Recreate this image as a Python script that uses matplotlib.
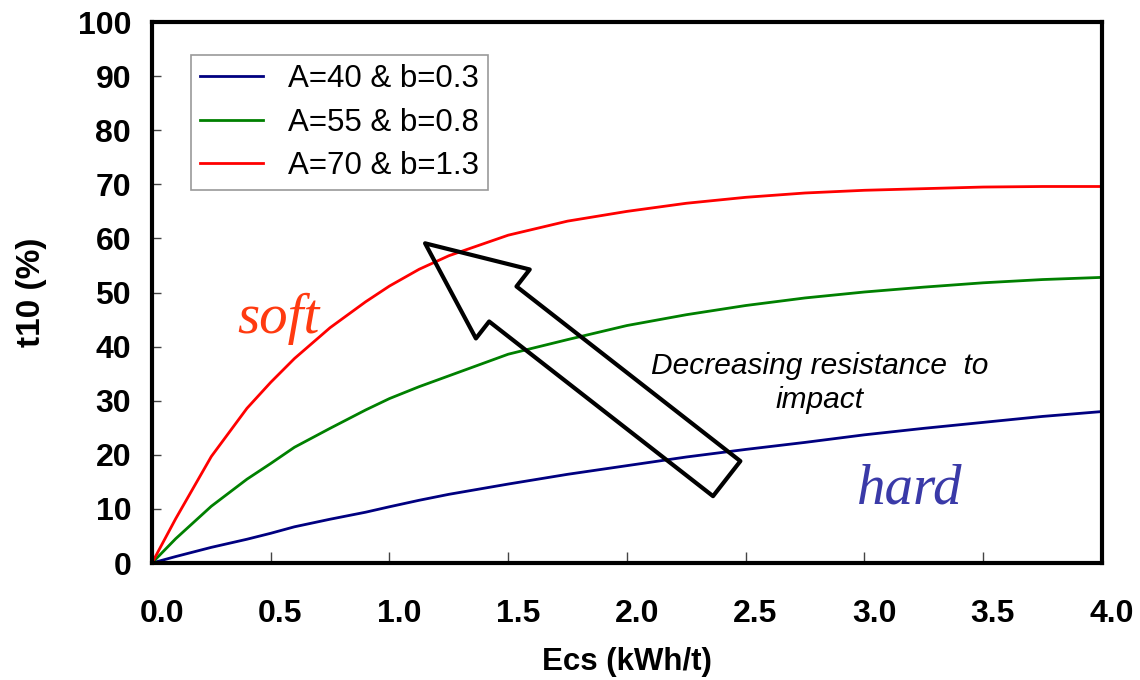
import matplotlib
matplotlib.use("Agg")
import matplotlib.pyplot as plt
from matplotlib.transforms import ScaledTranslation

plt.rcParams["font.family"] = ["Liberation Sans", "DejaVu Sans"]

# values
ecs = [0.0, 0.1, 0.25, 0.4, 0.5, 0.6, 0.75, 0.9, 1.0, 1.125, 1.25, 1.5, 1.75, 2.0,
       2.25, 2.5, 2.75, 3.0, 3.25, 3.5, 3.75, 4.0]
t10_hard = [0.0, 1.2, 2.9, 4.4, 5.5, 6.7, 8.1, 9.4, 10.4, 11.6, 12.7, 14.6, 16.4, 18.0,
            19.6, 21.0, 22.3, 23.7, 24.9, 26.0, 27.1, 28.0]
t10_mid = [0.0, 4.5, 10.5, 15.5, 18.4, 21.4, 24.9, 28.3, 30.4, 32.6, 34.6, 38.6, 41.3, 43.9,
           45.9, 47.6, 49.0, 50.1, 51.0, 51.8, 52.4, 52.8]
t10_soft = [0.0, 8.2, 19.7, 28.6, 33.4, 37.8, 43.5, 48.3, 51.2, 54.3, 56.8, 60.6, 63.2, 65.0,
            66.5, 67.6, 68.4, 68.9, 69.2, 69.5, 69.6, 69.6]
labels = ["A=40 & b=0.3", "A=55 & b=0.8", "A=70 & b=1.3"]
colors = ["#000080", "#008000", "#ff0000"]

fig = plt.figure(figsize=(11.4, 6.8), dpi=100)
ax = fig.add_axes([0.1333, 0.172, 0.8333, 0.7956])

for y, lab, c in zip([t10_hard, t10_mid, t10_soft], labels, colors):
    ax.plot(ecs, y, color=c, lw=2.0, label=lab)

ax.set_xlim(0, 4)
ax.set_ylim(0, 100)
ax.set_xticks([0, 0.5, 1, 1.5, 2, 2.5, 3, 3.5, 4])
ax.set_xticklabels(["0.0", "0.5", "1.0", "1.5", "2.0", "2.5", "3.0", "3.5", "4.0"])
ax.set_yticks(range(0, 101, 10))

for s in ax.spines.values():
    s.set_linewidth(3)
    s.set_color("black")

ax.tick_params(axis="both", direction="in", width=1, color="#444444",
               labelsize=23)
ax.tick_params(axis="x", length=8, pad=26)
ax.tick_params(axis="y", length=6.5, pad=15)
for t in ax.get_xticklabels() + ax.get_yticklabels():
    t.set_fontweight("bold")
for t in ax.get_xticklabels():
    t.set_transform(t.get_transform() + ScaledTranslation(7 / 72, 0, fig.dpi_scale_trans))

ax.set_xlabel("Ecs (kWh/t)", fontsize=22.5, fontweight="bold", labelpad=13)
ax.set_ylabel("t10 (%)", fontsize=24, fontweight="bold", labelpad=22)

leg = ax.legend(loc="upper left", bbox_to_anchor=(0.041, 0.939), borderaxespad=0,
                fontsize=22.5, fancybox=False, framealpha=1, handlelength=2.0,
                handletextpad=0.8, labelspacing=0.42, borderpad=0.3)
leg.get_frame().set_edgecolor("#999999")
leg.get_frame().set_linewidth(1.2)

# hollow block arrow
ax.annotate("", xy=(1.15, 59.1), xytext=(2.42, 15.6),
            arrowprops=dict(arrowstyle="simple,head_length=71,head_width=63,tail_width=32",
                            mutation_scale=1, fc="none", ec="black", lw=3,
                            shrinkA=0, shrinkB=0))

ax.text(2.81, 33.3, "Decreasing resistance  to\nimpact", fontsize=21.5,
        style="italic", ha="center", va="center", linespacing=1.3)

ax.text(0.36, 42.5, "soft", fontsize=41, style="italic", color="#ff3a10",
        family=["Liberation Serif", "DejaVu Serif"], ha="left", va="baseline")
ax.text(2.97, 11.0, "hard", fontsize=41, style="italic", color="#3a3aa8",
        family=["Liberation Serif", "DejaVu Serif"], ha="left", va="baseline")

fig.savefig("out.png", dpi=100)
